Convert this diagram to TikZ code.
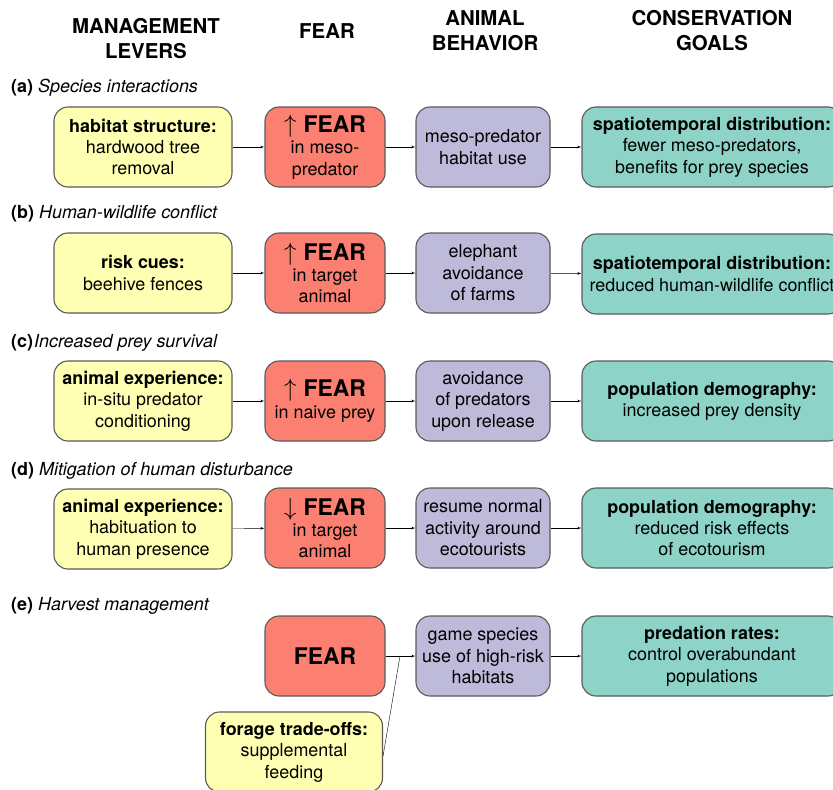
\documentclass[tikz,border=0pt]{standalone}
\usepackage{fontspec}
\setmainfont{TeX Gyre Heros}
\usepackage{amssymb}
\usepackage[x11names, rgb]{xcolor}
\usepackage{tikz}
\usetikzlibrary{arrows,positioning,shapes}

\definecolor{levercol}{HTML}{FFFFB3}
\definecolor{fearcol}{HTML}{FB8072}
\definecolor{behavcol}{HTML}{BEBADA}
\definecolor{goalcol}{HTML}{8DD3C7}
\definecolor{edgecol}{HTML}{5A5A5A}

\newcommand{\upfear}{{\fontsize{29}{24}\selectfont$\uparrow$}\hspace{7bp}{\fontsize{23}{24}\selectfont\textbf{FEAR}}}
\newcommand{\downfear}{{\fontsize{29}{24}\selectfont$\downarrow$}\hspace{7bp}{\fontsize{23}{24}\selectfont\textbf{FEAR}}}

\begin{document}
\begin{tikzpicture}[>=latex',
	box/.style={draw=edgecol, line width=1.1bp, rounded corners=14bp, minimum height=80bp,
		align=center, inner sep=2bp, font=\fontsize{18}{21.5}\selectfont},
	lever/.style={box, fill=levercol, minimum width=178bp},
	fear/.style={box, fill=fearcol, minimum width=120bp},
	behav/.style={box, fill=behavcol, minimum width=134bp},
	goal/.style={box, fill=goalcol, minimum width=260bp},
	head/.style={align=center, font=\fontsize{20.5}{25}\selectfont\bfseries},
	tag/.style={anchor=west, inner sep=0pt, font=\fontsize{18}{21}\selectfont}]
	\useasboundingbox (0bp,0bp) rectangle (833bp,-790bp);

	% column heads
	\node (hLever) at (146bp,-39bp) [head] {MANAGEMENT\\LEVERS};
	\node (hFear)  at (327bp,-31bp) [head] {FEAR};
	\node (hBehav) at (485bp,-31bp) [head] {ANIMAL\\BEHAVIOR};
	\node (hGoal)  at (712bp,-31bp) [head] {CONSERVATION\\GOALS};

	% (a)
	\node (tagA)   at (11bp,-88bp)   [tag]    {\textbf{(a)} \textit{Species interactions}};
	\node (levA)   at (143bp,-147bp) [lever]  {\textbf{habitat structure:}\\hardwood tree\\removal};
	\node (fearA)  at (325bp,-147bp) [fear]   {\upfear\\in meso-\\predator};
	\node (behavA) at (483bp,-147bp) [behav]  {meso-predator\\habitat use};
	\node (goalA)  at (712bp,-147bp) [goal]   {\textbf{spatiotemporal distribution:}\\fewer meso-predators,\\benefits for prey species};

	% (b)
	\node (tagB)   at (11bp,-214bp)  [tag]    {\textbf{(b)} \textit{Human-wildlife conflict}};
	\node (levB)   at (143bp,-273bp) [lever]  {\textbf{risk cues:}\\beehive fences};
	\node (fearB)  at (325bp,-273bp) [fear]   {\upfear\\in target\\animal};
	\node (behavB) at (483bp,-273bp) [behav]  {elephant\\avoidance\\of farms};
	\node (goalB)  at (712bp,-274bp) [goal]   {\textbf{spatiotemporal distribution:}\\reduced human-wildlife conflict};

	% (c)
	\node (tagC)   at (11bp,-343bp)  [tag]    {\textbf{(c)}\hspace{1bp}\textit{Increased prey survival}};
	\node (levC)   at (143bp,-401bp) [lever]  {\textbf{animal experience:}\\in-situ predator\\conditioning};
	\node (fearC)  at (325bp,-401bp) [fear]   {\upfear\\in naive prey};
	\node (behavC) at (483bp,-401bp) [behav]  {avoidance\\of predators\\upon release};
	\node (goalC)  at (712bp,-401bp) [goal]   {\textbf{population demography:}\\increased prey density};

	% (d)
	\node (tagD)   at (11bp,-471bp)  [tag]    {\textbf{(d)} \textit{Mitigation of human disturbance}};
	\node (levD)   at (143bp,-529bp) [lever]  {\textbf{animal experience:}\\habituation to\\human presence};
	\node (fearD)  at (325bp,-528bp) [fear]   {\downfear\\in target\\animal};
	\node (behavD) at (483bp,-528bp) [behav]  {resume normal\\activity around\\ecotourists};
	\node (goalD)  at (712bp,-528bp) [goal]   {\textbf{population demography:}\\reduced risk effects\\of ecotourism};

	% (e)
	\node (tagE)   at (11bp,-606bp)  [tag]    {\textbf{(e)} \textit{Harvest management}};
	\node (fearE)  at (325bp,-656bp) [fear]   {\fontsize{23}{24}\selectfont\textbf{FEAR}};
	\node (behavE) at (483bp,-656bp) [behav]  {game species\\use of high-risk\\habitats};
	\node (goalE)  at (712bp,-656bp) [goal]   {\textbf{predation rates:}\\control overabundant\\populations};
	\node (levE)   at (294bp,-752bp) [lever, minimum width=177bp] {\textbf{forage trade-offs:}\\supplemental\\feeding};
	\coordinate (join) at (400bp,-656bp);

	\draw [->]  (levA) to (fearA);
	\draw [->]  (fearA) to (behavA);
	\draw [->]  (behavA) to (goalA);
	\draw [->]  (levB) to (fearB);
	\draw [->]  (fearB) to (behavB);
	\draw [->]  (behavB) to (goalB);
	\draw [->]  (levC) to (fearC);
	\draw [->]  (fearC) to (behavC);
	\draw [->]  (behavC) to (goalC);
	\draw [->]  (levD) to (fearD);
	\draw [->]  (fearD) to (behavD);
	\draw [->]  (behavD) to (goalD);
	\draw [->]  (fearE) to (behavE);
	\draw [->]  (behavE) to (goalE);
	\draw       ([yshift=-4bp]levE.east) to (join);
\end{tikzpicture}
\end{document}
